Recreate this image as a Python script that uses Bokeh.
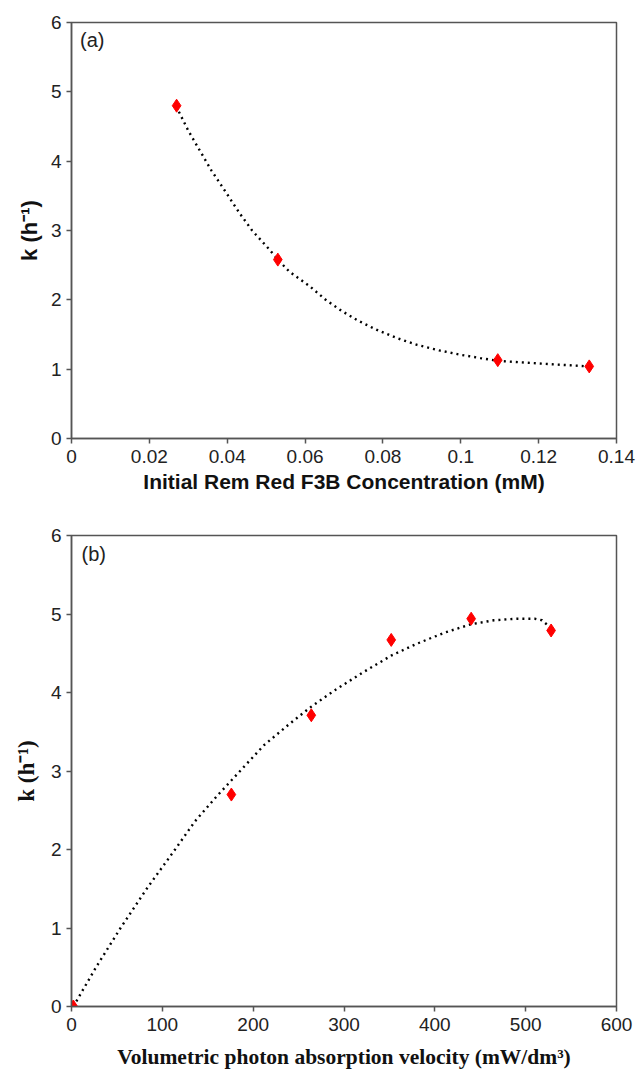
from bokeh.plotting import figure
from bokeh.layouts import column
from bokeh.models import Range1d, FixedTicker, Label
from bokeh.embed import file_html
from bokeh.resources import INLINE

# ---- Panel (a) data ----
conc_mM = [0.027, 0.053, 0.1095, 0.133]
k_a = [4.80, 2.58, 1.13, 1.04]
# trend line
trend_a_x = [0.0269, 0.0300, 0.0332, 0.0360, 0.0399, 0.0433, 0.0464, 0.0506, 0.0530,
             0.0559, 0.0611, 0.0653, 0.0694, 0.0736, 0.0783, 0.0835, 0.0888, 0.0945,
             0.0997, 0.1050, 0.1095, 0.1206, 0.1329]
trend_a_y = [4.79, 4.44, 4.13, 3.86, 3.53, 3.24, 3.00, 2.74, 2.58,
             2.41, 2.20, 2.00, 1.84, 1.70, 1.57, 1.45, 1.35, 1.27,
             1.21, 1.16, 1.12, 1.08, 1.04]
x_ticks_a = [0, 0.02, 0.04, 0.06, 0.08, 0.1, 0.12, 0.14]
y_ticks = [0, 1, 2, 3, 4, 5, 6]

# ---- Panel (b) data ----
photon_vel = [2, 176, 264, 352, 440, 528]
k_b = [0.0, 2.70, 3.71, 4.67, 4.94, 4.79]
trend_b_x = [2, 27, 54, 84, 114, 136, 160, 180, 212, 240, 264, 290, 320, 352,
             380, 410, 440, 465, 490, 510, 518, 524]
trend_b_y = [0.0, 0.50, 1.00, 1.52, 2.00, 2.36, 2.68, 2.93, 3.33, 3.60, 3.82, 4.03,
             4.25, 4.47, 4.62, 4.76, 4.87, 4.92, 4.94, 4.94, 4.92, 4.86]
x_ticks_b = [0, 100, 200, 300, 400, 500, 600]

FRAME = "#555555"
RED = "#ff0000"


def style(p, label_font, label_size, tick_font="Liberation Sans"):
    p.outline_line_color = FRAME
    p.outline_line_width = 1.5
    p.grid.visible = False
    for ax in (p.xaxis[0], p.yaxis[0]):
        ax.axis_line_color = FRAME
        ax.axis_line_width = 1.5
        ax.major_tick_line_color = FRAME
        ax.major_tick_line_width = 1.5
        ax.major_tick_in = 0
        ax.major_tick_out = 5
        ax.minor_tick_line_color = None
        ax.major_label_text_font = tick_font
        ax.major_label_text_font_size = "19px"
        ax.major_label_text_color = "#222222"
        ax.axis_label_text_font = label_font
        ax.axis_label_text_font_size = label_size
        ax.axis_label_text_font_style = "bold"
        ax.axis_label_text_color = "#111111"
    p.xaxis.major_label_standoff = 6
    p.yaxis.major_label_standoff = 5


# ---- Figure (a) ----
pa = figure(width=642, height=500, output_backend="svg", toolbar_location=None,
            x_range=Range1d(0, 0.14), y_range=Range1d(0, 6),
            min_border_left=71, min_border_right=21, min_border_top=22, min_border_bottom=62)
pa.line(trend_a_x, trend_a_y, line_color="black", line_width=2.4, line_dash="2 4")
pa.scatter(conc_mM, k_a, marker="diamond", size=13, fill_color=RED, line_color=RED)
pa.xaxis.ticker = FixedTicker(ticks=x_ticks_a)
pa.yaxis.ticker = FixedTicker(ticks=y_ticks)
pa.xaxis.major_label_overrides = {0: "0", 0.02: "0.02", 0.04: "0.04", 0.06: "0.06",
                                  0.08: "0.08", 0.1: "0.1", 0.12: "0.12", 0.14: "0.14"}
pa.xaxis.axis_label = "Initial Rem Red F3B Concentration (mM)"
pa.yaxis.axis_label = "k (h\u207b\u00b9)"
style(pa, "Liberation Sans", "21px")
pa.yaxis.axis_label_text_font_size = "22px"
pa.xaxis.axis_label_standoff = 4
pa.yaxis.axis_label_standoff = 6
pa.add_layout(Label(x=0.0022, y=5.9, text="(a)", text_font="Liberation Sans",
                    text_font_size="20px", text_color="#222222", text_baseline="top"))

# ---- Figure (b) ----
pb = figure(width=642, height=571, output_backend="svg", toolbar_location=None,
            x_range=Range1d(0, 600), y_range=Range1d(0, 6),
            min_border_left=68, min_border_right=26, min_border_top=35, min_border_bottom=62)
pb.line(trend_b_x, trend_b_y, line_color="black", line_width=2.4, line_dash="2 4")
pb.scatter(photon_vel, k_b, marker="diamond", size=13, fill_color=RED, line_color=RED)
pb.xaxis.ticker = FixedTicker(ticks=x_ticks_b)
pb.yaxis.ticker = FixedTicker(ticks=y_ticks)
pb.xaxis.axis_label = "Volumetric photon absorption velocity (mW/dm\u00b3)"
pb.yaxis.axis_label = "k (h\u207b\u00b9)"
style(pb, "Liberation Serif", "21.5px")
pb.yaxis.axis_label_text_font_size = "23px"
pb.xaxis.axis_label_standoff = 11
pb.yaxis.axis_label_standoff = 9
pb.add_layout(Label(x=11, y=5.9, text="(b)", text_font="Liberation Sans",
                    text_font_size="20px", text_color="#222222", text_baseline="top"))

layout = column(pa, pb, spacing=0)
open("out.html", "w").write(file_html(layout, INLINE))
